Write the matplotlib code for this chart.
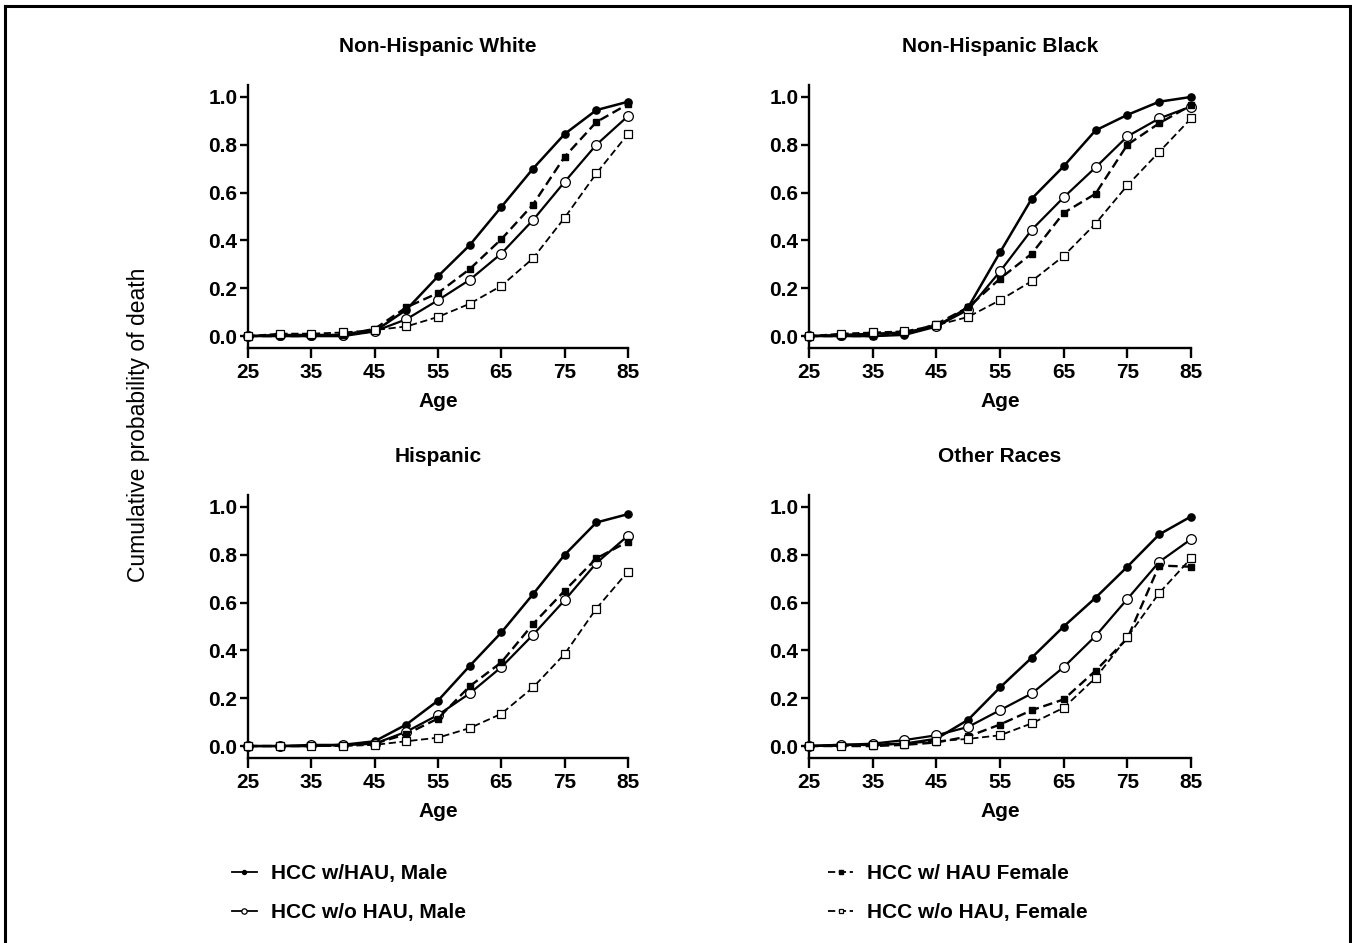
import matplotlib
matplotlib.use("Agg")
import matplotlib.pyplot as plt
from matplotlib.lines import Line2D

plt.rcParams['font.family'] = ['Liberation Sans', 'DejaVu Sans']
plt.rcParams['font.weight'] = 'bold'

ages = [25, 30, 35, 40, 45, 50, 55, 60, 65, 70, 75, 80, 85]
xticks = [25, 35, 45, 55, 65, 75, 85]
yticks = [0.0, 0.2, 0.4, 0.6, 0.8, 1.0]

panel_titles = ["Non-Hispanic White", "Non-Hispanic Black", "Hispanic", "Other Races"]
series_labels = ["HCC w/HAU, Male", "HCC w/o HAU, Male", "HCC w/ HAU Female", "HCC w/o HAU, Female"]

# Non-Hispanic White
nhw_m_hau = [0, 0, 0, 0, 0.02, 0.11, 0.25, 0.38, 0.54, 0.70, 0.845, 0.945, 0.98]
nhw_m_nohau = [0, 0.005, 0.005, 0.005, 0.02, 0.07, 0.15, 0.235, 0.345, 0.485, 0.645, 0.80, 0.92]
nhw_f_hau = [0, 0, 0, 0.005, 0.03, 0.12, 0.18, 0.28, 0.405, 0.55, 0.75, 0.895, 0.97]
nhw_f_nohau = [0, 0.01, 0.01, 0.015, 0.025, 0.04, 0.08, 0.135, 0.21, 0.325, 0.495, 0.68, 0.845]

# Non-Hispanic Black
nhb_m_hau = [0, 0, 0, 0.005, 0.04, 0.12, 0.35, 0.575, 0.71, 0.86, 0.925, 0.98, 1.0]
nhb_m_nohau = [0, 0.005, 0.01, 0.015, 0.04, 0.11, 0.27, 0.445, 0.58, 0.705, 0.835, 0.91, 0.96]
nhb_f_hau = [0, 0, 0, 0.01, 0.05, 0.12, 0.24, 0.345, 0.515, 0.595, 0.80, 0.89, 0.965]
nhb_f_nohau = [0, 0.01, 0.015, 0.02, 0.045, 0.08, 0.15, 0.23, 0.335, 0.47, 0.63, 0.77, 0.91]

# Hispanic
his_m_hau = [0, 0, 0, 0.005, 0.02, 0.09, 0.19, 0.335, 0.475, 0.635, 0.80, 0.935, 0.97]
his_m_nohau = [0, 0, 0.005, 0.005, 0.01, 0.06, 0.13, 0.22, 0.33, 0.465, 0.61, 0.765, 0.88]
his_f_hau = [0, 0, 0, 0.005, 0.01, 0.05, 0.115, 0.25, 0.35, 0.51, 0.65, 0.785, 0.855]
his_f_nohau = [0, 0, 0, 0, 0.005, 0.02, 0.035, 0.075, 0.135, 0.245, 0.385, 0.575, 0.73]

# Other Races
oth_m_hau = [0, 0.005, 0.005, 0.01, 0.03, 0.11, 0.245, 0.37, 0.50, 0.62, 0.75, 0.885, 0.96]
oth_m_nohau = [0, 0.005, 0.01, 0.025, 0.045, 0.08, 0.15, 0.22, 0.33, 0.46, 0.615, 0.77, 0.865]
oth_f_hau = [0, 0, 0, 0.005, 0.015, 0.04, 0.09, 0.15, 0.195, 0.315, 0.45, 0.755, 0.75]
oth_f_nohau = [0, 0, 0.005, 0.01, 0.02, 0.03, 0.045, 0.095, 0.16, 0.285, 0.455, 0.64, 0.785]

panel_data = [
    (nhw_m_hau, nhw_m_nohau, nhw_f_hau, nhw_f_nohau),
    (nhb_m_hau, nhb_m_nohau, nhb_f_hau, nhb_f_nohau),
    (his_m_hau, his_m_nohau, his_f_hau, his_f_nohau),
    (oth_m_hau, oth_m_nohau, oth_f_hau, oth_f_nohau),
]

styles = [
    dict(linestyle='-', linewidth=1.8, marker='o', markersize=5.2, markerfacecolor='black', markeredgecolor='black'),
    dict(linestyle='-', linewidth=1.6, marker='o', markersize=7, markerfacecolor='white', markeredgecolor='black', markeredgewidth=0.9),
    dict(linestyle=(0, (4, 2)), linewidth=1.7, marker='s', markersize=5, markerfacecolor='black', markeredgecolor='black'),
    dict(linestyle=(0, (4, 2)), linewidth=1.3, marker='s', markersize=5.5, markerfacecolor='white', markeredgecolor='black', markeredgewidth=0.9),
]

W, H = 1352, 943
fig = plt.figure(figsize=(W / 100, H / 100), dpi=100)
fig.patch.set_facecolor('white')

positions = [
    (248 / W, (H - 348) / H, 380 / W, 263 / H),
    (809 / W, (H - 348) / H, 382 / W, 263 / H),
    (248 / W, (H - 758) / H, 380 / W, 263 / H),
    (809 / W, (H - 758) / H, 382 / W, 263 / H),
]

FS = 15
for pos, title, series in zip(positions, panel_titles, panel_data):
    ax = fig.add_axes(pos)
    for vals, st in zip(series, styles):
        ax.plot(ages, vals, color='black', clip_on=False, zorder=3, **st)
    ax.set_xlim(25, 85)
    ax.set_ylim(-0.05, 1.05)
    ax.set_xticks(xticks)
    ax.set_yticks(yticks)
    ax.set_yticklabels([f"{v:.1f}" for v in yticks])
    for s in ['top', 'right']:
        ax.spines[s].set_visible(False)
    for s in ['left', 'bottom']:
        ax.spines[s].set_linewidth(1.7)
    ax.tick_params(axis='x', direction='out', length=7, width=1.7, labelsize=FS, pad=4)
    ax.tick_params(axis='y', direction='out', length=6, width=1.7, labelsize=FS, pad=1.5)
    for lab in ax.get_xticklabels() + ax.get_yticklabels():
        lab.set_fontweight('bold')
    ax.set_xlabel('Age', fontsize=FS, fontweight='bold', labelpad=7)
    ax.set_title(title, fontsize=FS, fontweight='bold', pad=24)
    ax.set_facecolor('none')

fig.text(138 / W, 1 - 425 / H, 'Cumulative probability of death', rotation=90,
         ha='center', va='center', fontsize=16.5, fontweight='normal')

# Legends
def handle(st, ms_scale=0.55):
    st2 = dict(st)
    st2['markersize'] = st['markersize'] * ms_scale
    st2['linewidth'] = min(st['linewidth'], 1.3)
    return Line2D([], [], color='black', **st2)

h_left = [handle(styles[0]), handle(styles[1])]
h_right = [handle(styles[2]), handle(styles[3])]

leg_kw = dict(frameon=False, handlelength=1.2, handletextpad=0.65,
              labelspacing=0.95, borderpad=0, borderaxespad=0, loc='center left',
              prop={'weight': 'bold', 'size': FS})
fig.legend(h_left, series_labels[:2], bbox_to_anchor=(232 / W, 1 - 893 / H), **leg_kw)
fig.legend(h_right, series_labels[2:], bbox_to_anchor=(828 / W, 1 - 893 / H), **leg_kw)

# outer frame (left, top, right)
lw = 2.2
fig.add_artist(Line2D([5 / W, 5 / W], [0, 1 - 6 / H], transform=fig.transFigure, color='black', linewidth=lw))
fig.add_artist(Line2D([5 / W, 1350 / W], [1 - 6 / H, 1 - 6 / H], transform=fig.transFigure, color='black', linewidth=lw))
fig.add_artist(Line2D([1350 / W, 1350 / W], [0, 1 - 6 / H], transform=fig.transFigure, color='black', linewidth=lw))

fig.savefig('out.png', dpi=100, facecolor='white')
